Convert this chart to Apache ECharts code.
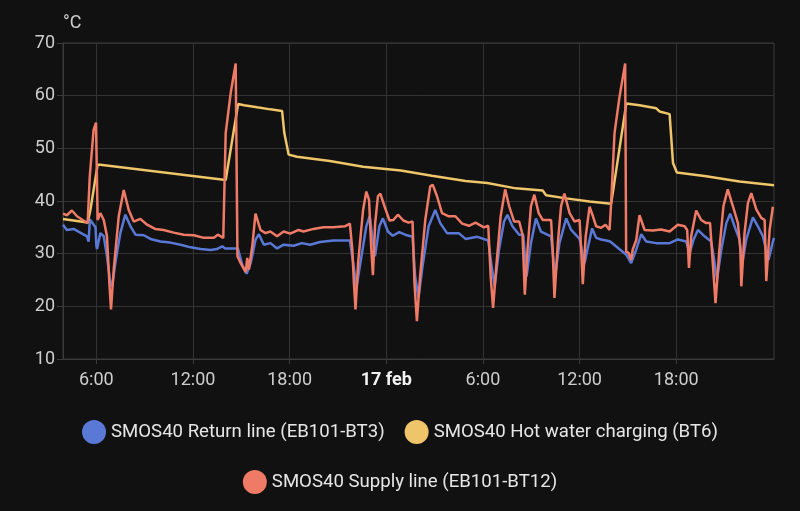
<!DOCTYPE html>
<html>
<head>
<meta charset="utf-8">
<script src="https://cdn.jsdelivr.net/npm/echarts@6/dist/echarts.min.js"></script>
<style>
html,body{margin:0;padding:0;background:#111111;}
#chart{width:800px;height:511px;}
</style>
</head>
<body>
<div id="chart"></div>
<script>
// Hours since 16 Feb 00:00
const seriesNames = ['SMOS40 Return line (EB101-BT3)', 'SMOS40 Hot water charging (BT6)', 'SMOS40 Supply line (EB101-BT12)'];

const returnHours = [3.93,4.17,4.59,5.0,5.42,5.52,5.6,5.95,6.0,6.04,6.25,6.46,6.66,6.87,6.98,7.18,7.49,7.80,8.12,8.43,8.95,9.36,9.98,10.6,11.23,11.85,12.47,13.1,13.5,13.82,13.98,14.78,15.06,15.33,15.58,15.88,16.09,16.4,16.81,17.22,17.63,18.25,18.76,19.27,19.89,20.71,21.74,21.95,22.15,22.46,22.76,22.97,23.13,23.3,23.57,23.79,24.1,24.4,24.8,25.17,25.63,25.79,26.0,26.25,26.63,27.04,27.35,27.77,28.5,28.92,29.65,30.33,30.54,30.73,31.0,31.31,31.52,31.83,32.25,32.5,32.71,32.98,33.29,33.6,34.23,34.48,34.75,35.17,35.48,36.0,36.31,36.5,36.78,37.03,37.34,37.65,37.9,38.9,39.2,39.52,39.83,40.14,40.76,41.59,42.1,42.62,42.83,43.08,43.35,43.76,44.17,44.32,44.53,44.8,45.11,45.35,45.62,45.93,46.1,46.35,46.76,47.07,47.38,47.73,48.0,48.07];
const returnValues = [35.5,34.5,34.7,34.0,33.3,32.3,36.5,35.0,31.5,30.9,33.9,33.3,29.5,24.4,23.8,28.2,33.9,37.4,35.2,33.6,33.5,32.8,32.3,32.1,31.7,31.2,30.9,30.7,30.9,31.4,31.0,31.0,27.9,26.2,28.2,32.6,33.7,31.7,32.0,31.0,31.7,31.5,32.0,31.7,32.2,32.5,32.5,28.2,23.6,29.5,35.2,37.1,33.3,29.5,35.2,36.7,34.2,33.4,34.1,33.6,33.2,25.7,21.6,27.6,35.2,38.3,35.8,33.9,33.9,32.8,33.2,32.5,27.6,23.8,30.8,36.1,37.4,35.2,33.6,33.6,25.7,32.0,36.7,34.2,33.3,25.7,32.0,36.7,34.5,32.8,28.2,31.0,34.8,33.0,32.7,32.5,32.3,29.8,28.2,30.8,33.7,32.3,32.0,32.0,32.7,32.3,30.1,32.7,34.5,33.3,32.3,29.5,25.1,30.8,35.8,37.6,35.2,32.7,28.2,32.7,36.9,35.2,33.3,28.8,32.3,33.0];

const hotWaterHours = [3.93,4.59,5.46,5.63,6.08,6.25,14.03,14.8,15.17,15.98,16.8,17.53,17.67,17.94,18.45,20.5,22.56,24.9,26.83,28.92,30.27,30.3,32.04,33.71,33.92,35.17,36.62,37.96,38.9,39.72,40.76,40.96,41.59,41.8,42.04,43.86,45.93,48.07];
const hotWaterValues = [36.6,36.3,35.9,38.3,46.9,46.9,44.0,58.4,58.2,57.8,57.4,57.1,52.9,48.8,48.4,47.6,46.5,45.8,44.8,43.8,43.4,43.1,42.4,42.0,41.1,40.5,39.9,39.5,58.5,58.2,57.6,57.0,56.5,47.2,45.4,44.7,43.7,43.0];

const supplyHours = [3.93,4.17,4.48,4.8,5.2,5.46,5.59,5.83,5.98,6.08,6.25,6.46,6.66,6.81,6.91,7.08,7.39,7.7,8.01,8.32,8.73,9.15,9.65,10.17,10.8,11.42,12.05,12.67,13.29,13.54,13.88,14.03,14.34,14.65,14.76,14.96,15.27,15.37,15.47,15.68,15.88,16.19,16.5,16.8,17.22,17.63,18.04,18.55,18.86,19.48,20.1,20.71,21.43,21.74,21.89,21.99,22.09,22.25,22.56,22.76,22.93,23.07,23.17,23.31,23.48,23.63,23.89,24.2,24.44,24.72,25.06,25.38,25.63,25.75,25.9,26.1,26.42,26.73,26.88,27.15,27.46,27.88,28.29,28.71,29.13,29.54,30.06,30.33,30.48,30.63,30.83,31.1,31.38,31.63,31.94,32.25,32.46,32.6,32.77,32.98,33.19,33.46,33.71,34.23,34.33,34.44,34.65,34.85,35.06,35.38,35.69,36.0,36.1,36.2,36.38,36.62,36.83,37.03,37.34,37.61,37.86,37.96,38.17,38.48,38.83,38.89,39.05,39.2,39.3,39.52,39.72,40.04,40.55,41.06,41.59,42.1,42.52,42.68,42.79,42.93,43.24,43.55,43.86,44.1,44.27,44.44,44.68,44.93,45.2,45.52,45.83,45.98,46.04,46.24,46.45,46.66,46.97,47.28,47.49,47.59,47.8,48.0];
const supplyValues = [37.6,37.3,38.2,37.1,36.3,35.8,44.6,53.5,54.9,36.4,37.7,36.4,33.3,24.4,19.4,27.0,37.1,42.1,38.3,36.1,36.6,35.5,34.7,34.5,34.0,33.6,33.5,33.0,33.0,33.6,33.0,52.9,60.5,66.1,29.5,28.2,26.5,29.2,27.0,31.4,37.6,34.5,33.9,34.2,33.3,34.2,33.8,34.5,34.2,34.7,35.0,35.0,35.2,35.7,30.8,24.4,19.4,28.2,38.3,41.8,40.2,30.8,25.9,35.8,40.9,41.4,39.0,36.3,36.4,37.4,36.3,35.9,36.1,24.4,17.2,25.7,36.4,42.8,43.1,40.9,37.7,37.1,37.1,35.7,35.3,35.9,35.0,35.3,25.7,19.7,27.6,37.1,42.2,39.0,36.1,36.1,33.6,22.2,30.8,39.0,41.2,37.7,36.4,36.4,30.8,21.6,32.0,39.0,41.4,37.7,36.1,36.4,30.8,24.2,33.3,38.9,37.1,35.2,34.9,35.5,34.5,39.6,52.9,59.8,66.1,30.4,30.1,28.8,30.8,32.6,37.3,34.5,34.4,34.6,34.2,35.5,35.2,34.5,27.3,33.3,38.2,36.4,35.8,35.8,28.2,20.6,30.8,39.0,42.2,39.0,35.8,30.8,23.8,33.9,39.6,41.5,38.4,36.8,36.4,24.8,34.5,38.9];

const xTickHours = [6, 12, 18, 24, 30, 36, 42];
const xRangeHours = [3.93, 48.07];
const yTicks = {min: 10, max: 70, step: 10};

function build(hours, values) {
  return hours.map((h, i) => [h, values[i]]);
}

const chart = echarts.init(document.getElementById('chart'), null, {renderer: 'canvas'});
const axisColor = '#3a3a3a';
const gridColor = '#333333';
const labelColor = '#cdcdcd';
const font = 'Roboto, "Noto Sans", sans-serif';

chart.setOption({
  backgroundColor: '#111111',
  animation: false,
  textStyle: {fontFamily: font},
  grid: {left: 63, right: 26, top: 43, bottom: 152, show: true, borderColor: axisColor, borderWidth: 1},
  legend: [
    {
      data: [seriesNames[0], seriesNames[1]],
      left: 'center', top: 415,
      icon: 'circle', itemWidth: 24, itemHeight: 24, itemGap: 20,
      textStyle: {color: '#e6e6e6', fontSize: 18.6, fontFamily: font}
    },
    {
      data: [seriesNames[2]],
      left: 'center', top: 465,
      icon: 'circle', itemWidth: 24, itemHeight: 24,
      textStyle: {color: '#e6e6e6', fontSize: 18.6, fontFamily: font}
    }
  ],
  xAxis: {
    type: 'value',
    min: xRangeHours[0],
    max: xRangeHours[1],
    axisLine: {lineStyle: {color: axisColor}},
    axisTick: {show: true, length: 5, lineStyle: {color: axisColor}, customValues: xTickHours},
    splitLine: {show: true, lineStyle: {color: gridColor}},
    axisLabel: {
      color: labelColor, fontSize: 18, margin: 12, fontFamily: font,
      customValues: xTickHours,
      formatter: function (v) {
        const h = Math.round(v) % 24;
        if (h === 0) return '{b|17 feb}';
        return h + ':00';
      },
      rich: {b: {fontWeight: 'bold', color: '#f2f2f2', fontSize: 18, fontFamily: font}}
    }
  },
  yAxis: {
    type: 'value',
    min: yTicks.min, max: yTicks.max, interval: yTicks.step,
    name: '°C',
    nameLocation: 'end',
    nameGap: 11,
    nameTextStyle: {color: labelColor, fontSize: 18, align: 'left', fontFamily: font},
    axisLine: {show: true, lineStyle: {color: axisColor}},
    axisTick: {show: true, length: 6, lineStyle: {color: axisColor}},
    splitLine: {show: true, lineStyle: {color: gridColor}},
    axisLabel: {color: labelColor, fontSize: 18, margin: 8, fontFamily: font}
  },
  series: [
    {name: seriesNames[0], type: 'line', showSymbol: false, color: '#5a78d6', lineStyle: {width: 2.5}, data: build(returnHours, returnValues)},
    {name: seriesNames[1], type: 'line', showSymbol: false, color: '#eec568', lineStyle: {width: 2.5}, data: build(hotWaterHours, hotWaterValues)},
    {name: seriesNames[2], type: 'line', showSymbol: false, color: '#ef7b67', lineStyle: {width: 2.5}, data: build(supplyHours, supplyValues)}
  ]
});
</script>
</body>
</html>
